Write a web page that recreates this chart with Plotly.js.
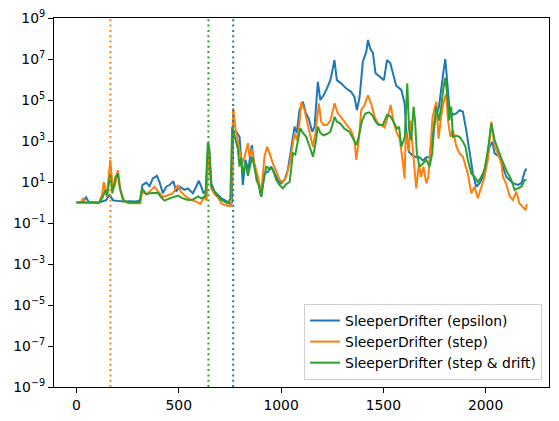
<!DOCTYPE html>
<html>
<head>
<meta charset="utf-8">
<script src="https://cdn.plot.ly/plotly-3.0.1.min.js"></script>
<style>html,body{margin:0;padding:0;background:#fff;}#chart{width:559px;height:421px;}</style>
</head>
<body>
<div id="chart"></div>
<script>
// Series names
const seriesNames = ["SleeperDrifter (epsilon)", "SleeperDrifter (step)", "SleeperDrifter (step & drift)"];
const seriesColors = ["#1f77b4", "#ff7f0e", "#2ca02c"];

// Change points (vertical dotted lines), one per series
const changePoints = [766, 166, 645];

// SleeperDrifter (epsilon)
const epsilonX = [0,30,47,60,110,145,161,180,200,230,260,290,312,322,341,357,373,393,406,422,439,455,474,487,504,528,544,569,585,598,610,621,634,645,652,659,675,691,708,724,740,752,760,766,781,797,808,813,826,840,857,870,887,903,919,936,952,968,984,1001,1017,1033,1050,1066,1077,1090,1107,1120,1136,1152,1164,1180,1192,1208,1224,1241,1250,1261,1273,1294,1319,1343,1359,1371,1384,1400,1417,1425,1436,1449,1462,1482,1503,1518,1534,1547,1563,1588,1604,1612,1625,1642,1661,1677,1694,1710,1726,1739,1756,1772,1783,1795,1803,1813,1824,1840,1857,1873,1889,1905,1922,1938,1954,1971,1987,2003,2020,2033,2044,2068,2085,2101,2117,2134,2158,2175,2191,2200];
const epsilonY = [1.0,1.05,1.8,1.05,1.0,1.3,2.3,1.26,1.2,1.12,1.15,1.12,1.26,7.1,9.3,6.3,15,20,9.8,2.8,5.9,7.1,11,3.4,5.9,4.1,4.9,2.8,5.9,11.5,5.9,2.8,4.0,780,100,8.7,3.4,2.3,1.6,1.3,0.98,0.85,1.0,2800,2800,1600,56,7.1,120,40,630,56,12.6,1.9,26,32,56,26,12.6,8.7,12.6,38,525,5000,2500,3.2e4,8.3e4,2.5e4,1.2e4,2800,5000,7.8e5,1e5,1.7e5,3.6e5,9.3e5,2.4e6,8.9e6,9.3e5,6.5e5,3.6e5,2.5e5,1.4e5,3.2e4,1.4e5,7.4e6,2.3e7,8.5e7,3.2e7,2e7,2e6,1.4e6,9.3e5,8.9e6,6.3e6,2e6,5e5,3.1e5,6.9e4,3500,300,200,160,160,110,160,160,1600,1.5e4,4.7e4,4.5e5,2.9e6,1e7,4.5e5,3.2e4,1.9e4,2.2e4,3.2e4,2.7e4,3500,250,26,5.9,8.7,18,81,525,910,250,170,56,18,12.6,8.7,7.2,8.7,32,46];

// SleeperDrifter (step)
const stepX = [0,20,31,45,110,125,134,148,165,178,190,202,215,235,260,290,312,321,341,357,381,400,422,445,470,496,510,535,561,585,605,626,636,645,659,675,691,708,724,740,756,760,766,778,789,797,810,822,838,846,857,870,887,903,919,932,944,960,977,993,1009,1025,1042,1058,1066,1077,1090,1099,1115,1127,1140,1156,1168,1185,1196,1208,1224,1241,1262,1275,1290,1310,1326,1343,1359,1368,1380,1392,1408,1425,1441,1457,1473,1490,1506,1522,1536,1550,1566,1580,1592,1604,1610,1625,1632,1645,1661,1674,1684,1696,1710,1720,1730,1741,1759,1770,1783,1795,1808,1816,1828,1840,1857,1873,1889,1902,1913,1930,1946,1962,1979,1995,2011,2028,2044,2060,2077,2085,2101,2118,2134,2150,2166,2183,2196,2202];
const stepY = [1.0,0.95,1.5,1.0,0.93,2.5,10,1.9,120,4.1,7.9,38,4.0,1.1,0.91,0.89,0.91,3.4,2.5,3.4,5.9,3.4,1.9,2.2,2.8,7.1,3.4,1.9,1.3,1.1,0.85,1.9,1.26,360,4.9,2.5,1.8,0.91,0.76,0.68,0.68,32,4e4,3500,1100,360,81,170,780,170,400,81,18,2.8,170,525,250,81,32,12.6,10,18,81,1100,2400,1100,7200,7.9e4,3.2e4,8700,2400,525,2400,6.9e4,8700,6000,6000,1e4,6.9e4,2.5e4,1.6e4,8700,5000,3200,1100,120,1100,3.2e4,5.6e4,1.7e5,6.3e4,1.6e4,7200,6000,4500,1.5e4,5.8e4,8700,2400,1300,170,15,2500,320,1e4,250,4.9,79,18,56,8.7,18,540,1.5e4,8.3e4,1300,1.6e4,7.9e4,2.1e5,1e4,1600,3500,540,250,170,56,26,2.8,5.9,1.6,5.9,18,120,8700,540,250,81,18,8,2.0,1.3,3.4,0.9,0.63,0.43,0.85];

// SleeperDrifter (step & drift)
const driftX = [0,110,129,140,150,165,175,191,202,212,227,250,280,308,321,341,357,381,398,410,430,455,480,496,520,545,570,595,610,630,642,650,659,675,691,708,724,740,752,761,778,789,797,805,813,826,838,850,859,870,880,892,903,915,928,944,960,977,993,1009,1025,1042,1058,1070,1082,1094,1107,1123,1140,1156,1168,1180,1192,1208,1224,1241,1262,1273,1290,1310,1335,1350,1368,1380,1396,1412,1430,1445,1462,1478,1498,1518,1534,1550,1566,1577,1588,1605,1617,1626,1636,1648,1655,1664,1677,1694,1710,1726,1739,1751,1759,1772,1783,1795,1803,1812,1822,1832,1840,1857,1873,1889,1902,1913,1930,1946,1962,1979,1995,2011,2028,2044,2060,2077,2101,2126,2142,2158,2175,2191,2200];
const driftY = [1.0,0.98,1.9,4.0,2.2,26,2.8,18,26,5.0,1.32,1.0,1.0,1.0,4.9,2.5,2.8,3.0,3.0,2.0,1.23,1.58,1.9,2.2,1.58,1.32,1.41,2.0,1.58,2.0,830,400,5.9,3.2,2.0,1.32,1.1,0.91,1.58,5000,1100,400,56,160,26,81,20,79,170,56,12.6,6.3,1.9,12.6,56,45,40,12.6,7.1,4.9,7.9,10,250,220,1100,4200,2500,1600,525,170,700,5000,2500,1900,2200,2800,1.5e4,8700,7100,4000,2800,1300,630,1600,1e4,2.2e4,2.5e4,1.9e4,8700,6000,6000,1.9e4,1.6e4,8700,4000,5000,525,1600,6.5e5,3500,1100,4.7e4,1e4,250,56,79,120,56,250,1e4,4.7e4,1e4,4.7e4,4.5e5,1.2e6,2.1e5,1e4,4.7e4,1600,1800,1600,930,500,120,26,18,10,18,40,360,7200,1100,360,140,38,12.6,4.1,4.9,5.9,12.6,12.6];

// Axis ticks
const xTicks = [0, 500, 1000, 1500, 2000];
const yTickExp = [-9, -7, -5, -3, -1, 1, 3, 5, 7, 9];

const xs = [epsilonX, stepX, driftX];
const ys = [epsilonY, stepY, driftY];

const traces = seriesNames.map((name, i) => ({
  type: "scatter",
  mode: "lines",
  name: name,
  x: xs[i],
  y: ys[i],
  line: { color: seriesColors[i], width: 2 },
  hoverinfo: "skip"
}));

const shapes = changePoints.map((cp, i) => ({
  type: "line",
  xref: "x", yref: "paper",
  x0: cp, x1: cp, y0: 0, y1: 1,
  line: { color: seriesColors[i], width: 2, dash: "2px,3.3px" }
}));

const fontFam = "DejaVu Sans, sans-serif";

const layout = {
  width: 559, height: 421,
  margin: { l: 54, r: 10, t: 18, b: 34, pad: 0 },
  paper_bgcolor: "#ffffff",
  plot_bgcolor: "#ffffff",
  font: { family: fontFam, size: 13.9, color: "#000" },
  showlegend: true,
  legend: {
    x: 0.986, xanchor: "right",
    y: 0.019, yanchor: "bottom",
    bgcolor: "rgba(255,255,255,0.8)",
    bordercolor: "#d0d0d0", borderwidth: 1,
    font: { family: fontFam, size: 13.9, color: "#000" },
    itemwidth: 30,
    tracegroupgap: 0
  },
  xaxis: {
    range: [-110, 2310],
    tickmode: "array", tickvals: xTicks, ticktext: xTicks.map(String),
    ticks: "outside", ticklen: 5, tickwidth: 1, tickcolor: "#000",
    showline: true, mirror: true, linecolor: "#000", linewidth: 1,
    showgrid: false, zeroline: false, automargin: false,
    tickfont: { family: fontFam, size: 13.9, color: "#000" }
  },
  yaxis: {
    type: "log",
    range: [-9, 9],
    tickmode: "array",
    tickvals: yTickExp.map(e => Math.pow(10, e)),
    ticktext: yTickExp.map(e => "10<sup>" + (e < 0 ? "\u2212" + (-e) : e) + "</sup>"),
    ticks: "outside", ticklen: 5, tickwidth: 1, tickcolor: "#000",
    showline: true, mirror: true, linecolor: "#000", linewidth: 1,
    showgrid: false, zeroline: false, automargin: false,
    tickfont: { family: fontFam, size: 13.9, color: "#000" }
  },
  shapes: shapes
};

Plotly.newPlot("chart", traces, layout, { staticPlot: true, displayModeBar: false });
</script>
</body>
</html>
